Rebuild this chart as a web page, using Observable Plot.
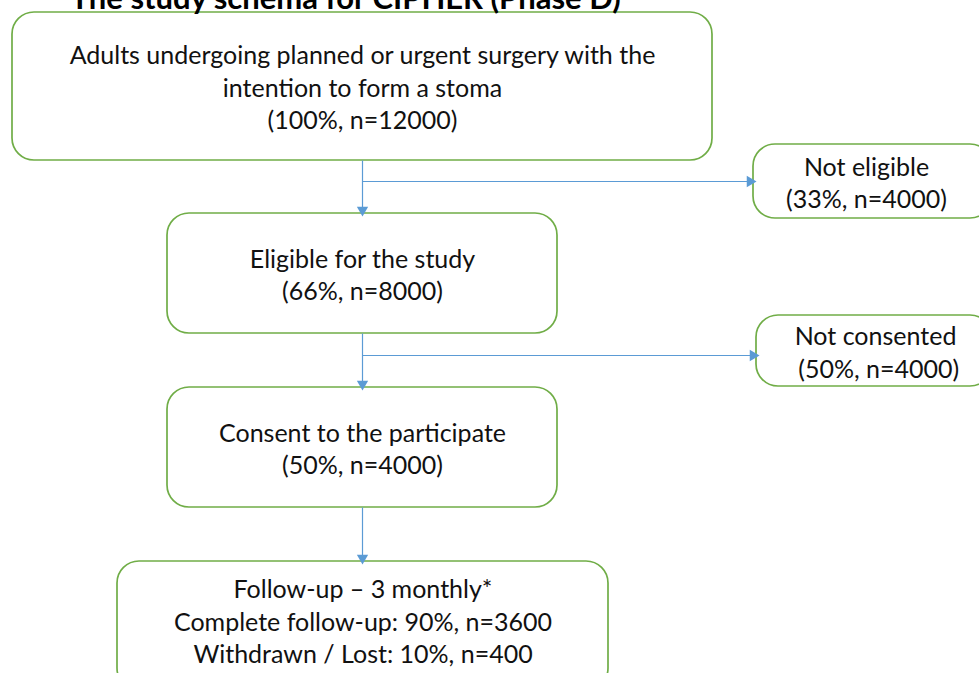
<!DOCTYPE html>
<html>
<head>
<meta charset="utf-8">
<script src="https://cdn.jsdelivr.net/npm/d3@7"></script>
<script src="https://cdn.jsdelivr.net/npm/@observablehq/plot@0.6"></script>
<style>
  html, body { margin: 0; padding: 0; background: #fff; overflow: hidden; }
  #chart svg { display: block; }
</style>
</head>
<body>
<div id="chart"></div>
<script>
// ---- Chart content (values) ----
const chartTitle = "The study schema for CIPHER (Phase D)";
const stageTitles = [
  "Adults undergoing planned or urgent surgery with the\nintention to form a stoma",
  "Eligible for the study",
  "Consent to the participate"
];
const stagePercents = [100, 66, 50];
const stageCounts = [12000, 8000, 4000];
const exclusionTitles = ["Not eligible", "Not consented"];
const exclusionPercents = [33, 50];
const exclusionCounts = [4000, 4000];
const followUpTitle = "Follow-up – 3 monthly*";
const followUpLabels = ["Complete follow-up", "Withdrawn / Lost"];
const followUpPercents = [90, 10];
const followUpCounts = [3600, 400];

// ---- Layout (positions in page pixels) ----
const W = 979, H = 673;
const stageBoxes = [
  {x1: 12, x2: 712, y1: 12, y2: 160},
  {x1: 167, x2: 557, y1: 213, y2: 333},
  {x1: 167, x2: 557, y1: 387, y2: 507}
];
const followUpBox = {x1: 117, x2: 608, y1: 561, y2: 690};
const exclusionBoxes = [
  {x1: 753, x2: 992, y1: 144, y2: 218},
  {x1: 756, x2: 992, y1: 315, y2: 386}
];
const spineX = 362;
const branchY = [181, 355];

// ---- Build tables ----
const boxes = [];
stageTitles.forEach((t, i) => boxes.push({
  ...stageBoxes[i],
  label: `${t}\n(${stagePercents[i]}%, n=${stageCounts[i]})`
}));
exclusionTitles.forEach((t, i) => boxes.push({
  ...exclusionBoxes[i],
  tx: i === 0 ? 866 : 875,
  label: `${t}\n${i === 1 ? " " : ""}(${exclusionPercents[i]}%, n=${exclusionCounts[i]})`
}));
boxes.push({
  ...followUpBox,
  label: [followUpTitle, ...followUpLabels.map((l, i) => `${l}: ${followUpPercents[i]}%, n=${followUpCounts[i]}`)].join("\n"),
  ty: 620
});

// connectors: vertical segments between stage boxes, horizontal branches to exclusions
const segs = [];
const heads = [];
const vertTargets = [stageBoxes[1].y1, stageBoxes[2].y1, followUpBox.y1];
const vertSources = [stageBoxes[0].y2, stageBoxes[1].y2, stageBoxes[2].y2];
vertSources.forEach((s, i) => {
  segs.push({x1: spineX, y1: s, x2: spineX, y2: vertTargets[i] - 6});
  heads.push({x: spineX, y: vertTargets[i] - 3.5, rot: 180});
});
branchY.forEach((y, i) => {
  segs.push({x1: spineX, y1: y, x2: exclusionBoxes[i].x1 - 6, y2: y});
  heads.push({x: exclusionBoxes[i].x1 - 3.5, y, rot: 90});
});

const font = "Lato, 'Open Sans', sans-serif";
const green = "#70AD47";
const blue = "#5B9BD5";

const plot = Plot.plot({
  width: W,
  height: H,
  margin: 0,
  x: {domain: [0, W], range: [0, W], axis: null},
  y: {domain: [0, H], range: [0, H], axis: null},
  style: {fontFamily: font, background: "#fff", overflow: "hidden"},
  marks: [
    Plot.rect(boxes, {x1: "x1", x2: "x2", y1: "y1", y2: "y2", rx: 22, fill: "white", stroke: green, strokeWidth: 1.7}),
    Plot.link(segs, {x1: "x1", y1: "y1", x2: "x2", y2: "y2", stroke: blue, strokeWidth: 1.2}),
    Plot.dot(heads, {x: "x", y: "y", symbol: "triangle", r: 4.2, rotate: "rot", fill: blue, stroke: "none"}),
    Plot.text(boxes, {
      x: d => d.tx ?? (d.x1 + d.x2) / 2,
      y: d => d.ty ?? (d.y1 + d.y2) / 2,
      text: "label",
      fontSize: 25,
      lineHeight: 1.3,
      fill: "#111",
      fontFamily: font
    }),
    Plot.text([chartTitle], {
      x: 70, y: -1, text: d => d, textAnchor: "start",
      fontSize: 31, fontWeight: "bold", fill: "#000", fontFamily: font
    })
  ]
});
document.getElementById("chart").appendChild(plot);
</script>
</body>
</html>
